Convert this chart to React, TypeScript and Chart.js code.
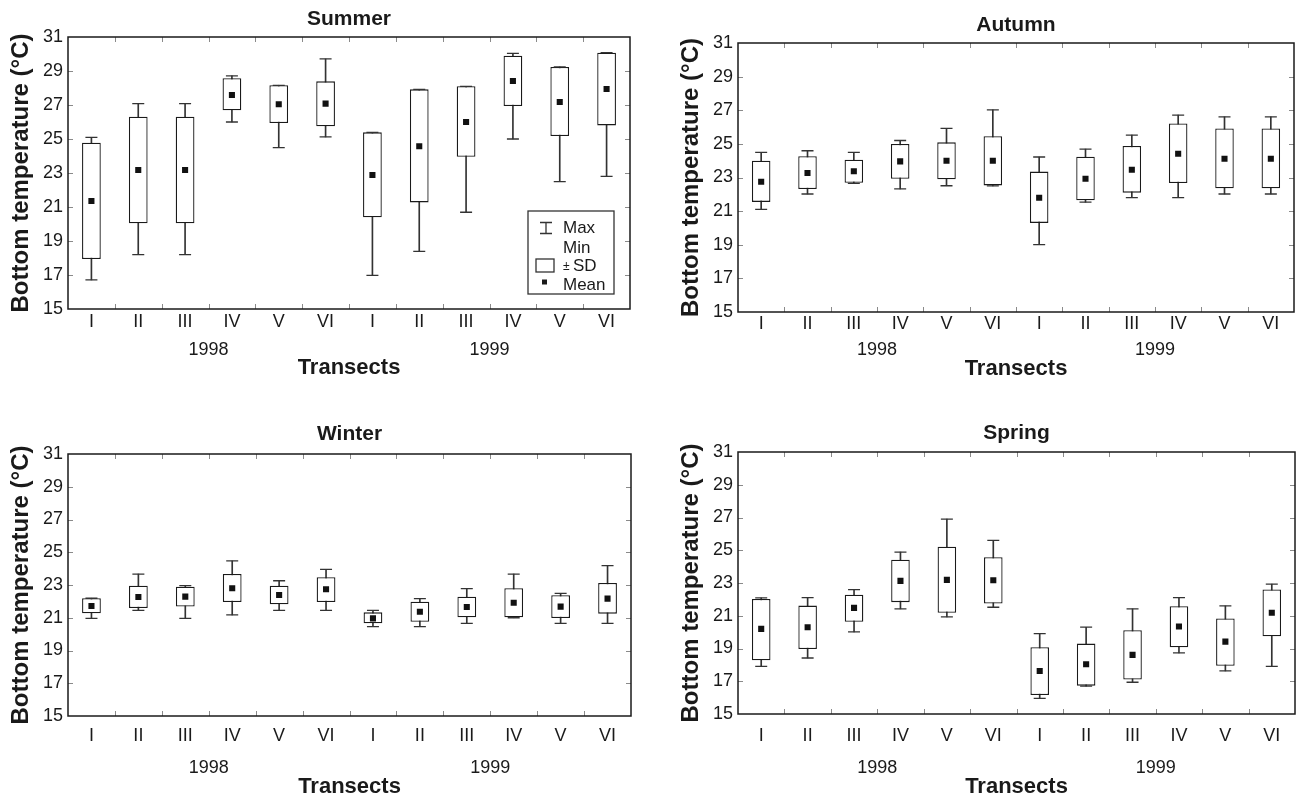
import React, { useEffect, useRef } from 'react';
import { Chart, registerables } from 'chart.js';

Chart.register(...registerables);

// ---------- data ----------
const transects = ['I', 'II', 'III', 'IV', 'V', 'VI', 'I', 'II', 'III', 'IV', 'V', 'VI'];
const yearLabels = ['1998', '1999'];
const yMin = 15;
const yMax = 31;
const yStep = 2;
const yAxisTitle = 'Bottom temperature (°C)';
const xAxisTitle = 'Transects';
const legendLabels = ['Max', 'Min', '±', 'SD', 'Mean'];

const summerMean = [21.35, 23.18, 23.18, 27.59, 27.04, 27.08, 22.88, 24.57, 26.0, 28.41, 27.18, 27.94];
const summerSdLow = [17.94, 20.04, 20.04, 26.69, 25.94, 25.75, 20.39, 21.27, 23.96, 26.94, 25.18, 25.8];
const summerSdHigh = [24.78, 26.31, 26.31, 28.57, 28.16, 28.39, 25.39, 27.92, 28.1, 29.9, 29.24, 30.08];
const summerMin = [16.71, 18.2, 18.2, 26.0, 24.49, 25.12, 16.98, 18.39, 20.69, 25.0, 22.49, 22.8];
const summerMax = [25.1, 27.08, 27.08, 28.71, 28.16, 29.71, 25.39, 27.92, 28.1, 30.04, 29.24, 30.08];

const autumnMean = [22.75, 23.27, 23.37, 23.96, 24.0, 24.0, 21.8, 22.93, 23.46, 24.41, 24.12, 24.12];
const autumnSdLow = [21.55, 22.32, 22.69, 22.93, 22.89, 22.53, 20.3, 21.64, 22.1, 22.67, 22.36, 22.36];
const autumnSdHigh = [24.0, 24.26, 24.06, 24.99, 25.09, 25.46, 23.35, 24.24, 24.87, 26.21, 25.92, 25.92];
const autumnMin = [21.11, 22.02, 22.65, 22.32, 22.51, 22.5, 19.01, 21.53, 21.8, 21.8, 22.02, 22.02];
const autumnMax = [24.49, 24.59, 24.49, 25.2, 25.92, 27.02, 24.22, 24.69, 25.52, 26.71, 26.61, 26.61];

const winterMean = [21.72, 22.27, 22.29, 22.8, 22.39, 22.74, 20.96, 21.37, 21.66, 21.92, 21.68, 22.17];
const winterSdLow = [21.27, 21.6, 21.68, 21.96, 21.82, 21.96, 20.66, 20.76, 21.03, 21.03, 20.98, 21.25];
const winterSdHigh = [22.19, 22.96, 22.9, 23.67, 22.96, 23.47, 21.33, 21.98, 22.29, 22.8, 22.37, 23.12];
const winterMin = [20.96, 21.45, 20.96, 21.17, 21.45, 21.45, 20.46, 20.46, 20.66, 21.0, 20.66, 20.66];
const winterMax = [22.19, 23.67, 22.96, 24.47, 23.26, 23.96, 21.45, 22.17, 22.78, 23.67, 22.49, 24.18];

const springMean = [20.2, 20.3, 21.48, 23.13, 23.19, 23.17, 17.63, 18.04, 18.61, 20.34, 19.42, 21.18];
const springSdLow = [18.28, 18.97, 20.63, 21.83, 21.18, 21.75, 16.16, 16.73, 17.1, 19.08, 17.95, 19.75];
const springSdHigh = [22.03, 21.62, 22.28, 24.42, 25.21, 24.58, 19.08, 19.3, 20.12, 21.58, 20.83, 22.6];
const springMin = [17.91, 18.42, 20.01, 21.42, 20.93, 21.52, 15.96, 16.7, 16.94, 18.73, 17.63, 17.91];
const springMax = [22.09, 22.11, 22.6, 24.89, 26.9, 25.6, 19.91, 20.3, 21.42, 22.11, 21.6, 22.93];

// ---------- layout ----------
const FONT = '"Liberation Sans", Arial, Helvetica, sans-serif';
const INK = '#1a1a1a';
const LINE = '#333333';

type Panel = {
  title: string;
  mean: number[]; sdLow: number[]; sdHigh: number[]; min: number[]; max: number[];
  left: number; top: number; width: number; height: number;
  plotL: number; plotT: number; plotR: number; plotB: number;
  xPad: number; titleDy: number; yearDy: number; transDy: number; legend: boolean;
};

const panels: Panel[] = [
  {
    title: 'Summer', mean: summerMean, sdLow: summerSdLow, sdHigh: summerSdHigh, min: summerMin, max: summerMax,
    left: 0, top: 0, width: 648, height: 400, plotL: 68, plotT: 37, plotR: 630, plotB: 309,
    xPad: 2, titleDy: 17.5, yearDy: 41.5, transDy: 59, legend: true,
  },
  {
    title: 'Autumn', mean: autumnMean, sdLow: autumnSdLow, sdHigh: autumnSdHigh, min: autumnMin, max: autumnMax,
    left: 670, top: 0, width: 626, height: 400, plotL: 738, plotT: 43, plotR: 1294, plotB: 312,
    xPad: 1, titleDy: 17.5, yearDy: 38, transDy: 57, legend: false,
  },
  {
    title: 'Winter', mean: winterMean, sdLow: winterSdLow, sdHigh: winterSdHigh, min: winterMin, max: winterMax,
    left: 0, top: 405, width: 648, height: 396, plotL: 68, plotT: 454, plotR: 631, plotB: 716,
    xPad: 9, titleDy: 20, yearDy: 52, transDy: 71, legend: false,
  },
  {
    title: 'Spring', mean: springMean, sdLow: springSdLow, sdHigh: springSdHigh, min: springMin, max: springMax,
    left: 670, top: 405, width: 626, height: 396, plotL: 738, plotT: 452, plotR: 1295, plotB: 714,
    xPad: 11, titleDy: 18.5, yearDy: 54, transDy: 73, legend: false,
  },
];

function makeDecorPlugin(p: Panel) {
  return {
    id: 'decor_' + p.title,
    afterDraw(chart: any) {
      const ctx = chart.ctx as CanvasRenderingContext2D;
      const { left, right, top, bottom } = chart.chartArea;
      const xs = chart.scales.x;
      const ys = chart.scales.y;
      ctx.save();
      // inner tick marks
      ctx.strokeStyle = '#8a8a8a';
      ctx.lineWidth = 1;
      for (let v = yMin + yStep; v < yMax; v += yStep) {
        const y = Math.round(ys.getPixelForValue(v)) + 0.5;
        ctx.beginPath();
        ctx.moveTo(left, y); ctx.lineTo(left + 5, y);
        ctx.moveTo(right, y); ctx.lineTo(right - 5, y);
        ctx.stroke();
      }
      for (let i = 1; i < transects.length; i++) {
        const x = Math.round((xs.getPixelForValue(i - 1) + xs.getPixelForValue(i)) / 2) + 0.5;
        ctx.beginPath();
        ctx.moveTo(x, bottom); ctx.lineTo(x, bottom - 5);
        ctx.moveTo(x, top); ctx.lineTo(x, top + 5);
        ctx.stroke();
      }
      // frame
      ctx.strokeStyle = INK;
      ctx.lineWidth = 1.5;
      ctx.strokeRect(left, top, right - left, bottom - top);

      // title
      ctx.fillStyle = INK;
      ctx.textAlign = 'center';
      ctx.textBaseline = 'middle';
      ctx.font = `bold 21px ${FONT}`;
      ctx.fillText(p.title, (left + right) / 2, top - p.titleDy);

      // years
      ctx.font = `18px ${FONT}`;
      yearLabels.forEach((yr, k) => {
        const x = (xs.getPixelForValue(6 * k) + xs.getPixelForValue(6 * k + 5)) / 2;
        ctx.fillText(yr, x, bottom + p.yearDy);
      });
      // x title
      ctx.font = `bold 22px ${FONT}`;
      ctx.fillText(xAxisTitle, (left + right) / 2, bottom + p.transDy);

      // legend
      if (p.legend) {
        const lx = right - 102;
        const ly = bottom - 98;
        ctx.strokeStyle = LINE;
        ctx.lineWidth = 1.3;
        ctx.strokeRect(lx, ly, 86, 83);
        ctx.beginPath();
        ctx.moveTo(lx + 12, ly + 11.5); ctx.lineTo(lx + 24, ly + 11.5);
        ctx.moveTo(lx + 18, ly + 11.5); ctx.lineTo(lx + 18, ly + 22.5);
        ctx.moveTo(lx + 12, ly + 22.5); ctx.lineTo(lx + 24, ly + 22.5);
        ctx.stroke();
        ctx.strokeRect(lx + 8, ly + 48, 18, 13);
        ctx.fillStyle = INK;
        ctx.fillRect(lx + 14, ly + 68.5, 5, 5);
        ctx.textAlign = 'left';
        ctx.textBaseline = 'alphabetic';
        ctx.font = `17px ${FONT}`;
        ctx.fillText(legendLabels[0], lx + 35, ly + 22);
        ctx.fillText(legendLabels[1], lx + 35, ly + 42);
        ctx.fillText(legendLabels[3], lx + 45, ly + 60);
        ctx.fillText(legendLabels[4], lx + 35, ly + 79);
        ctx.font = `12px ${FONT}`;
        ctx.fillText(legendLabels[2], lx + 35, ly + 59);
      }
      ctx.restore();
    },
  };
}

function BoxPanel({ p }: { p: Panel }) {
  const ref = useRef<HTMLCanvasElement | null>(null);
  useEffect(() => {
    if (!ref.current) return;
    const chart = new Chart(ref.current, {
      type: 'bar',
      data: {
        labels: transects,
        datasets: [
          {
            type: 'bar', label: 'Range', order: 4, grouped: false,
            data: p.min.map((v, i) => [v, p.max[i]]),
            backgroundColor: LINE, borderWidth: 0, barThickness: 1,
          } as any,
          {
            type: 'bar', label: '±SD', order: 3, grouped: false,
            data: p.sdLow.map((v, i) => [v, p.sdHigh[i]]),
            backgroundColor: '#ffffff', borderColor: INK, borderWidth: 1.3, borderSkipped: false,
            barPercentage: 0.4, categoryPercentage: 1,
          } as any,
          {
            type: 'line', label: 'Max', order: 2, data: p.max, showLine: false,
            pointStyle: 'line', pointRadius: 6, pointBorderColor: LINE, pointBorderWidth: 1.3,
            borderColor: LINE,
          } as any,
          {
            type: 'line', label: 'Min', order: 2, data: p.min, showLine: false,
            pointStyle: 'line', pointRadius: 6, pointBorderColor: LINE, pointBorderWidth: 1.3,
            borderColor: LINE,
          } as any,
          {
            type: 'line', label: 'Mean', order: 1, data: p.mean, showLine: false,
            pointStyle: 'rect', pointRadius: 4.3, pointBackgroundColor: '#111', pointBorderWidth: 0,
            borderColor: '#111',
          } as any,
        ],
      },
      options: {
        responsive: false,
        animation: false,
        events: [],
        layout: {
          autoPadding: false,
          padding: {
            left: 0,
            top: p.plotT - p.top,
            right: p.left + p.width - p.plotR,
            bottom: 0,
          },
        },
        plugins: {
          legend: { display: false },
          tooltip: { enabled: false },
          title: { display: false },
        },
        scales: {
          x: {
            type: 'category',
            offset: true,
            grid: { display: false, drawTicks: false },
            border: { display: false },
            ticks: {
              color: INK, autoSkip: false, maxRotation: 0, padding: p.xPad,
              font: { family: FONT, size: 18 },
            },
            afterFit: (s: any) => {
              s.height = p.top + p.height - p.plotB;
              s.paddingLeft = 0;
              s.paddingRight = 0;
            },
          },
          y: {
            type: 'linear',
            min: yMin,
            max: yMax,
            grid: { display: false, drawTicks: false },
            border: { display: false },
            ticks: {
              stepSize: yStep, color: INK, padding: 5,
              font: { family: FONT, size: 18 },
            },
            title: {
              display: true, text: yAxisTitle, color: INK,
              font: { family: FONT, size: 24, weight: 'bold' },
              padding: { top: 6.6, bottom: 0 },
            },
            afterFit: (s: any) => { s.width = p.plotL - p.left; },
          },
        },
      } as any,
      plugins: [makeDecorPlugin(p)],
    });
    return () => chart.destroy();
  }, [p]);
  return (
    <canvas
      ref={ref}
      width={p.width}
      height={p.height}
      style={{ position: 'absolute', left: p.left, top: p.top, width: p.width, height: p.height }}
    />
  );
}

export default function App() {
  return (
    <div style={{ position: 'fixed', left: 0, top: 0, width: 1296, height: 801, background: '#ffffff' }}>
      {panels.map((p) => (
        <BoxPanel key={p.title} p={p} />
      ))}
    </div>
  );
}
